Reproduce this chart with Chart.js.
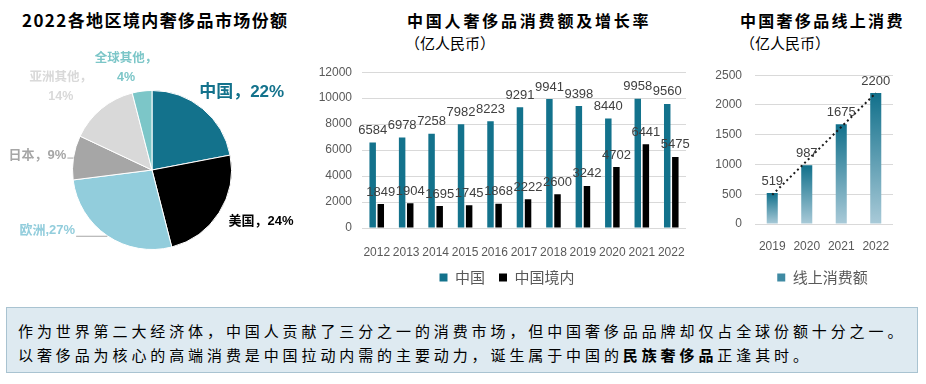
<!DOCTYPE html>
<html>
<head>
<meta charset="utf-8">
<script src="https://cdn.jsdelivr.net/npm/chart.js@4.4.1/dist/chart.umd.min.js"></script>
<style>
  body { margin: 0; width: 926px; height: 384px; background: #fff; position: relative; overflow: hidden; }
  .box { position: absolute; }
  .ttl { position: absolute; white-space: nowrap; font-family: "Noto Sans CJK SC", sans-serif; color: #000; }
  .ttl.b { font-weight: 700; }
  .note { position: absolute; left: 6px; top: 307px; width: 912px; height: 66px; background: #DEEAF1; border: 1px solid #A9C3D1;
          font-family: "Noto Sans CJK SC", sans-serif; font-size: 15px; letter-spacing: 3.9px; line-height: 24px; color: #000;
          padding: 11px 0 0 11px; box-sizing: border-box; white-space: nowrap; }
  .note b { font-weight: 700; }
</style>
</head>
<body>
<div class="ttl b" style="left:22px;top:9px;font-size:17px;letter-spacing:1.4px;line-height:22px;">2022各地区境内奢侈品市场份额</div>
<div class="ttl b" style="left:407px;top:9px;font-size:16px;letter-spacing:2.8px;line-height:22px;">中国人奢侈品消费额及增长率</div>
<div class="ttl" style="left:405px;top:33px;font-size:15px;line-height:20px;">（亿人民币）</div>
<div class="ttl b" style="left:740px;top:9px;font-size:16px;letter-spacing:2.3px;line-height:22px;">中国奢侈品线上消费</div>
<div class="ttl" style="left:740px;top:33px;font-size:15px;line-height:20px;">（亿人民币）</div>

<div class="box" style="left:0;top:0;width:304px;height:300px;"><canvas id="pie"></canvas></div>
<div class="box" style="left:300px;top:55px;width:400px;height:240px;"><canvas id="spend"></canvas></div>
<div class="box" style="left:690px;top:55px;width:236px;height:240px;"><canvas id="online"></canvas></div>

<div class="note">作为世界第二大经济体，中国人贡献了三分之一的消费市场，但中国奢侈品品牌却仅占全球份额十分之一。<br>以奢侈品为核心的高端消费是中国拉动内需的主要动力，诞生属于中国的<b>民族奢侈品</b>正逢其时。</div>

<script>
// 2022 share by region (%)
const shareNames = ['中国', '美国', '欧洲', '日本', '亚洲其他', '全球其他'];
const shareValues = [22, 24, 27, 9, 14, 4];

// China luxury consumption (亿人民币)
const years = ['2012', '2013', '2014', '2015', '2016', '2017', '2018', '2019', '2020', '2021', '2022'];
const chinaTotal = [6584, 6978, 7258, 7982, 8223, 9291, 9941, 9398, 8440, 9958, 9560];
const chinaDomestic = [1849, 1904, 1695, 1745, 1868, 2222, 2600, 3242, 4702, 6441, 5475];

// online consumption (亿人民币)
const onlineYears = ['2019', '2020', '2021', '2022'];
const onlineValues = [519, 987, 1675, 2200];
const onlineTrend = [490, 1060, 1630, 2200]; // dotted trend line

const numFont = '"Liberation Sans", Arial, sans-serif';
const cjkFont = '"Noto Sans CJK SC", sans-serif';
Chart.defaults.font.family = numFont;

const plainTick = v => String(v);

// value labels above bars
const valueLabels = {
  id: 'valueLabels',
  afterDatasetsDraw(chart) {
    const ctx = chart.ctx;
    ctx.save();
    ctx.font = '13px ' + numFont;
    ctx.fillStyle = '#404040';
    ctx.textAlign = 'center';
    ctx.textBaseline = 'middle';
    chart.data.datasets.forEach((ds, i) => {
      if (ds.type === 'line') return;
      chart.getDatasetMeta(i).data.forEach((bar, j) => {
        ctx.fillText(ds.data[j], bar.x, bar.y - 12);
      });
    });
    ctx.restore();
  }
};

// nudge the legend sideways (it is centred on the whole canvas by default)
const legendShift = {
  id: 'legendShift',
  afterLayout(chart, args, opts) {
    const lg = chart.legend;
    if (!lg || !opts.dx) return;
    lg.left += opts.dx;
    lg.right += opts.dx;
  }
};

// pie labels, placed relative to the edge point of each slice
const pieLabels = {
  id: 'pieLabels',
  afterDatasetsDraw(chart, args, opts) {
    const ctx = chart.ctx;
    ctx.save();
    ctx.textAlign = 'center';
    ctx.textBaseline = 'middle';
    chart.getDatasetMeta(0).data.forEach((arc, i) => {
      const s = opts.items[i];
      const mid = (arc.startAngle + arc.endAngle) / 2;
      const ex = arc.x + Math.cos(mid) * arc.outerRadius;
      const ey = arc.y + Math.sin(mid) * arc.outerRadius;
      const cx = ex + s.dx, cy = ey + s.dy;
      ctx.font = 'bold ' + s.size + 'px ' + numFont + ', ' + cjkFont;
      ctx.fillStyle = s.color;
      if (s.wrap) {
        ctx.fillText(shareNames[i] + '，', cx, cy - 9.5);
        ctx.fillText(shareValues[i] + '%', cx, cy + 9.5);
      } else {
        const txt = shareNames[i] + s.sep + shareValues[i] + '%';
        ctx.fillText(txt, cx, cy);
        if (s.leader) {
          const w = ctx.measureText(txt).width;
          ctx.strokeStyle = '#A6A6A6';
          ctx.lineWidth = 1;
          ctx.beginPath();
          ctx.moveTo(cx + w / 2 + 1, ey + 0.5);
          ctx.lineTo(ex, ey + 0.5);
          ctx.stroke();
        }
      }
    });
    ctx.restore();
  }
};

new Chart(document.getElementById('pie'), {
  type: 'pie',
  data: {
    labels: shareNames,
    datasets: [{
      data: shareValues,
      backgroundColor: ['#13728C', '#000000', '#92CDDC', '#A6A6A6', '#D9D9D9', '#7CC6C8'],
      borderColor: '#ffffff',
      borderWidth: 1
    }]
  },
  options: {
    responsive: true,
    maintainAspectRatio: false,
    animation: false,
    layout: { padding: { left: 72, right: 72, top: 90, bottom: 50 } },
    plugins: {
      legend: { display: false },
      tooltip: { enabled: false },
      pieLabels: {
        items: [
          { dx: 39, dy: -16, size: 17, color: '#13728C', sep: '，' },
          { dx: 42, dy: 9, size: 13, color: '#000000', sep: '，' },
          { dx: -60, dy: -5, size: 13, color: '#92CDDC', sep: ',', leader: true },
          { dx: -36, dy: -2.5, size: 13, color: '#A6A6A6', sep: '，', leader: true },
          { dx: -40.5, dy: -22, size: 12.5, color: '#D9D9D9', wrap: true },
          { dx: -16, dy: -23.5, size: 12.5, color: '#7CC6C8', wrap: true }
        ]
      }
    }
  },
  plugins: [pieLabels]
});

const legendLabels = {
  boxWidth: 8, boxHeight: 8, padding: 14, color: '#595959',
  font: { size: 15, family: cjkFont }
};

new Chart(document.getElementById('spend'), {
  type: 'bar',
  data: {
    labels: years,
    datasets: [
      { label: '中国', data: chinaTotal, backgroundColor: '#13728C', categoryPercentage: 0.55, barPercentage: 0.8 },
      { label: '中国境内', data: chinaDomestic, backgroundColor: '#000000', categoryPercentage: 0.55, barPercentage: 0.8 }
    ]
  },
  options: {
    responsive: true,
    maintainAspectRatio: false,
    animation: false,
    layout: { padding: { top: 15, right: 14, left: 0, bottom: 0 } },
    scales: {
      x: {
        grid: { display: false },
        border: { display: false },
        ticks: { color: '#595959', font: { size: 12 }, padding: 9, maxRotation: 0, autoSkip: false },
        afterFit(s) { s.height = 28; }
      },
      y: {
        min: 0, max: 12000,
        ticks: { stepSize: 2000, color: '#595959', font: { size: 12 }, padding: 10, callback: plainTick },
        grid: { color: '#D9D9D9', drawTicks: false },
        border: { display: false },
        afterFit(s) { s.width = 62; }
      }
    },
    plugins: {
      legend: { position: 'bottom', labels: legendLabels },
      legendShift: { dx: 14 },
      tooltip: { enabled: false }
    }
  },
  plugins: [valueLabels, legendShift]
});

function onlineFill(c) {
  const chart = c.chart;
  const y = chart.scales && chart.scales.y;
  if (!y || c.dataIndex === undefined || c.raw === undefined) return '#3F8AA3';
  const top = y.getPixelForValue(c.raw);
  const base = y.getPixelForValue(0);
  if (!Number.isFinite(top) || !Number.isFinite(base) || top === base) return '#3F8AA3';
  const g = chart.ctx.createLinearGradient(0, top, 0, base);
  g.addColorStop(0, '#11708B');
  g.addColorStop(1, '#A9CAD8');
  return g;
}

new Chart(document.getElementById('online'), {
  data: {
    labels: onlineYears,
    datasets: [
      { type: 'bar', label: '线上消费额', data: onlineValues, backgroundColor: onlineFill, categoryPercentage: 0.32, barPercentage: 1, order: 2 },
      { type: 'line', label: '趋势', data: onlineTrend, borderColor: '#1a1a1a', borderWidth: 2, borderDash: [2, 3],
        pointRadius: 0, fill: false, order: 1 }
    ]
  },
  options: {
    responsive: true,
    maintainAspectRatio: false,
    animation: false,
    layout: { padding: { top: 18, right: 33, left: 0, bottom: 0 } },
    scales: {
      x: {
        grid: { display: false },
        border: { display: false },
        ticks: { color: '#595959', font: { size: 12 }, padding: 7, maxRotation: 0 },
        afterFit(s) { s.height = 32; }
      },
      y: {
        min: 0, max: 2500,
        ticks: { stepSize: 500, color: '#595959', font: { size: 12 }, padding: 13, callback: plainTick },
        grid: { color: '#D9D9D9', drawTicks: false },
        border: { display: false },
        afterFit(s) { s.width = 65; }
      }
    },
    plugins: {
      legend: {
        position: 'bottom',
        labels: Object.assign({}, legendLabels, {
          generateLabels(chart) {
            const items = Chart.defaults.plugins.legend.labels.generateLabels(chart).filter(it => it.datasetIndex === 0);
            items.forEach(it => { it.fillStyle = '#3F8AA3'; it.strokeStyle = '#3F8AA3'; });
            return items;
          }
        })
      },
      legendShift: { dx: 31 },
      tooltip: { enabled: false }
    }
  },
  plugins: [valueLabels, legendShift]
});
</script>
</body>
</html>
